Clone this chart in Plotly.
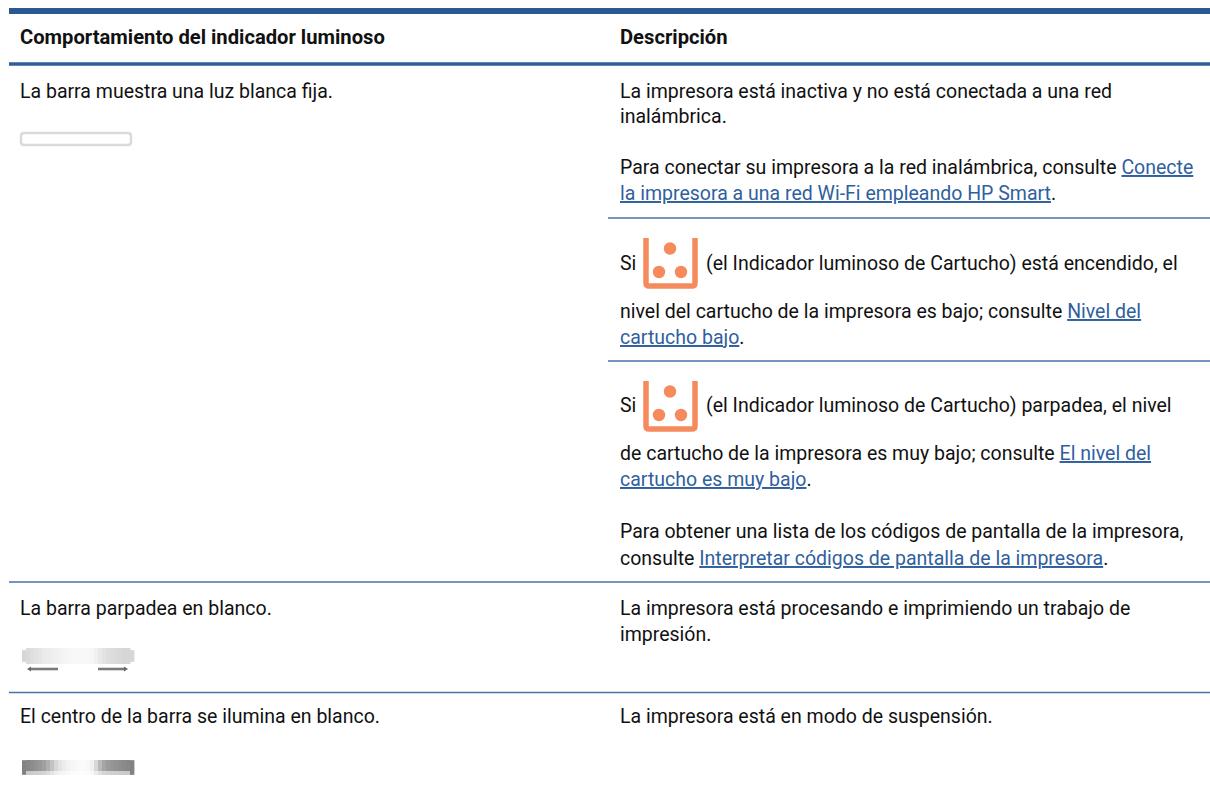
import plotly.graph_objects as go

FONT = "Roboto"
INK = "#111111"
LINK = "#2f5f9e"
RULE = "#4a71a6"
ORANGE = "#f58a5c"

headers = ["Comportamiento del indicador luminoso", "Descripción"]
left_lines = [
    "La barra muestra una luz blanca fija.",
    "La barra parpadea en blanco.",
    "El centro de la barra se ilumina en blanco.",
]
right_lines = [
    "La impresora está inactiva y no está conectada a una red",
    "inalámbrica.",
    "Para conectar su impresora a la red inalámbrica, consulte <u>Conecte</u>",
    "<u>la impresora a una red Wi-Fi empleando HP Smart</u>.",
    "(el Indicador luminoso de Cartucho) está encendido, el",
    "nivel del cartucho de la impresora es bajo; consulte <u>Nivel del</u>",
    "<u>cartucho bajo</u>.",
    "(el Indicador luminoso de Cartucho) parpadea, el nivel",
    "de cartucho de la impresora es muy bajo; consulte <u>El nivel del</u>",
    "<u>cartucho es muy bajo</u>.",
    "Para obtener una lista de los códigos de pantalla de la impresora,",
    "consulte <u>Interpretar códigos de pantalla de la impresora</u>.",
    "La impresora está procesando e imprimiendo un trabajo de",
    "impresión.",
    "La impresora está en modo de suspensión.",
]
si_word = "Si"

left_y = [91, 608, 716]
right_y = [91, 116.5, 167, 193, 263, 311, 337, 405.5, 453.5, 479.5, 531.5, 558, 608, 634, 716]
si_y = [263, 405.5]
icon_top = [237, 380]

bar2_shades = [214, 218, 222, 226, 230, 234, 236, 238, 240, 242, 244, 246, 247, 248,
               248, 248, 247, 246, 240, 232, 226, 222, 220, 218, 216, 214, 214, 214]
bar3_shades = [130, 135, 140, 146, 152, 160, 175, 195, 215, 228, 236, 242, 246, 248,
               250, 250, 248, 240, 215, 185, 165, 155, 150, 146, 142, 138, 135, 130]


def styled(text):
    return text.replace("<u>", f"<span style='color:{LINK}'><u>").replace("</u>", "</u></span>")


annotations = []


def add_text(x, y, text, size=19.5, bold=False):
    annotations.append(dict(
        x=x, y=y, xref="x", yref="y", text=f"<b>{text}</b>" if bold else styled(text),
        showarrow=False, xanchor="left", yanchor="middle", align="left",
        font=dict(family=FONT, size=size, color=INK),
    ))


add_text(18, 37, headers[0], size=20.2, bold=True)
add_text(618, 37, headers[1], size=20.2, bold=True)
for y, t in zip(left_y, left_lines):
    add_text(18, y, t)
for y, t in zip(right_y, right_lines):
    add_text(704 if y in si_y else 618, y, t)
for y in si_y:
    add_text(618, y, si_word)

shapes = []


def rule(x0, x1, y, w, color=RULE):
    shapes.append(dict(type="line", xref="x", yref="y", x0=x0, x1=x1, y0=y, y1=y,
                       line=dict(color=color, width=w)))


rule(9, 1210, 11, 6, "#2b5a92")
rule(9, 1210, 64, 3.4, "#2f5d96")
rule(608, 1210, 218, 1.4)
rule(608, 1210, 361, 1.4)
rule(9, 1210, 582, 1.4)
rule(9, 1210, 692.5, 1.4)


def rounded_path(x0, x1, y0, y1, r):
    return (f"M{x0 + r},{y0} L{x1 - r},{y0} Q{x1},{y0} {x1},{y0 + r} L{x1},{y1 - r} "
            f"Q{x1},{y1} {x1 - r},{y1} L{x0 + r},{y1} Q{x0},{y1} {x0},{y1 - r} "
            f"L{x0},{y0 + r} Q{x0},{y0} {x0 + r},{y0} Z")


# outlined white bar
shapes.append(dict(type="path", xref="x", yref="y", path=rounded_path(21, 131, 133, 145, 3),
                   line=dict(color="#dadada", width=2.4), fillcolor="#ffffff"))


def strip_bar(x0, x1, y0, y1, shades, radius):
    n = len(shades)
    step = (x1 - x0) / n
    for i, s in enumerate(shades):
        d = min(i + 0.5, n - i - 0.5) * step
        inset = 0.0
        if d < radius:
            inset = radius - (radius ** 2 - (radius - d) ** 2) ** 0.5
        shapes.append(dict(type="rect", xref="x", yref="y",
                           x0=x0 + i * step, x1=x0 + (i + 1) * step + 0.4,
                           y0=y0 + inset, y1=y1 - inset,
                           line=dict(width=0), fillcolor=f"rgb({s},{s},{s})", layer="below"))


strip_bar(22, 134, 648, 664, bar2_shades, 7)
strip_bar(22, 134, 760, 775, bar3_shades, 3)
# pale lower edge of the last bar
shapes.append(dict(type="rect", xref="x", yref="y", x0=26, x1=130, y0=771, y1=775,
                   line=dict(width=0), fillcolor="rgba(255,255,255,0.55)"))
# little arrows under the blinking bar
rule(30, 58, 669, 2.6, "#7a7a7a")
rule(98, 125, 669, 2.6, "#7a7a7a")
shapes.append(dict(type="path", xref="x", yref="y", path="M27,669 L31,666.5 L31,671.5 Z",
                   line=dict(width=0), fillcolor="#666666"))
shapes.append(dict(type="path", xref="x", yref="y", path="M128,669 L124,666.5 L124,671.5 Z",
                   line=dict(width=0), fillcolor="#666666"))

for top in icon_top:
    L, R, B = 646, 695, top + 49
    shapes.append(dict(type="path", xref="x", yref="y",
                       path=f"M{L},{top + 1} L{L},{B - 3} Q{L},{B} {L + 3},{B} "
                            f"L{R - 3},{B} Q{R},{B} {R},{B - 3} L{R},{top + 1}",
                       line=dict(color=ORANGE, width=5.5), fillcolor="rgba(0,0,0,0)"))
    for cx, cy in [(670, top + 11.5), (659, top + 35), (681, top + 35)]:
        shapes.append(dict(type="circle", xref="x", yref="y", x0=cx - 6.2, x1=cx + 6.2,
                           y0=cy - 6.2, y1=cy + 6.2,
                           line=dict(width=0), fillcolor=ORANGE))

fig = go.Figure()
fig.update_layout(
    width=1210, height=790, margin=dict(l=0, r=0, t=0, b=0),
    paper_bgcolor="white", plot_bgcolor="white", showlegend=False,
    xaxis=dict(range=[0, 1210], visible=False, fixedrange=True),
    yaxis=dict(range=[790, 0], visible=False, fixedrange=True),
    annotations=annotations, shapes=shapes,
)
fig.write_html("out.html", config={"displayModeBar": False},
               default_width="1210px", default_height="790px",
               post_script="document.body.style.margin='0';document.documentElement.style.overflow='hidden';")
